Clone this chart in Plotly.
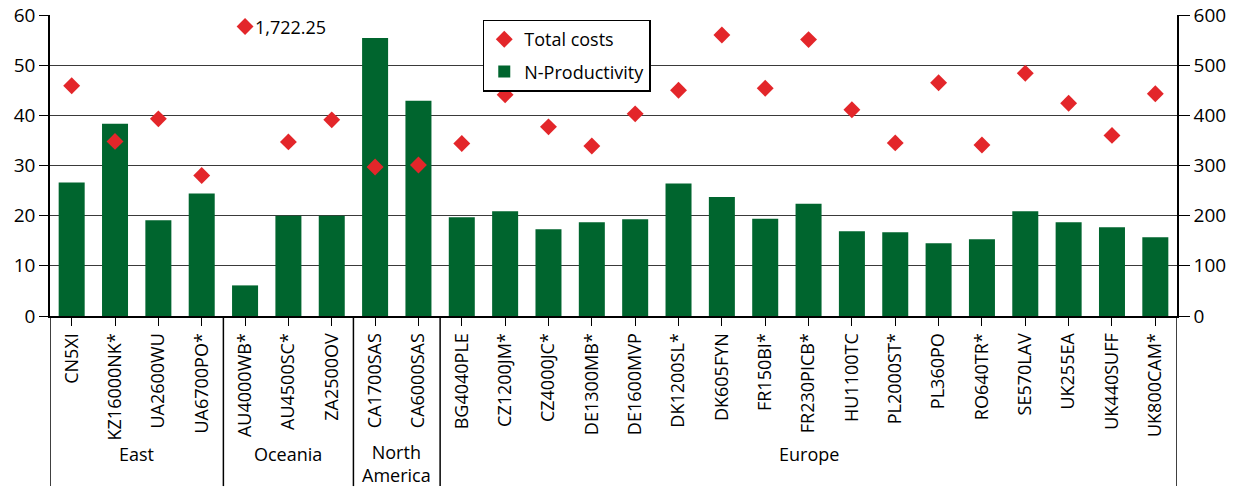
import plotly.graph_objects as go

categories = ["CN5XI", "KZ16000NK*", "UA2600WU", "UA6700PO*",
              "AU4000WB*", "AU4500SC*", "ZA2500OV",
              "CA1700SAS", "CA6000SAS",
              "BG4040PLE", "CZ1200JM*", "CZ4000JC*", "DE1300MB*", "DE1600MVP",
              "DK1200SL*", "DK605FYN", "FR150BI*", "FR230PICB*", "HU1100TC",
              "PL2000ST*", "PL360PO", "RO640TR*", "SE570LAV", "UK255EA",
              "UK440SUFF", "UK800CAM*"]

n_productivity = [26.6, 38.3, 19.1, 24.4,
                  6.1, 20.0, 20.0,
                  55.4, 42.9,
                  19.7, 20.9, 17.3, 18.7, 19.3,
                  26.4, 23.7, 19.4, 22.4, 16.9,
                  16.7, 14.5, 15.3, 20.9, 18.7,
                  17.7, 15.7]

total_costs = [459, 348, 393, 280,
               1722.25, 347, 391,
               297, 301,
               344, 441, 377, 339, 403,
               450, 560, 454, 551, 411,
               345, 465, 341, 484, 424,
               360, 443]

groups = ["East", "Oceania", "North<br>America", "Europe"]
group_sizes = [4, 3, 2, 17]

# off-scale values are drawn at the top of the right axis and labelled
cost_display_cap = 577

FONT = "Open Sans"
GREEN = "#00652E"
RED = "#E3262A"

cost_plot = [min(v, cost_display_cap) for v in total_costs]

fig = go.Figure()
fig.add_trace(go.Bar(x=categories, y=n_productivity, name="N-Productivity",
                     marker=dict(color=GREEN, line=dict(width=0)), yaxis="y",
                     legendgroup="b", legendrank=2))
fig.add_trace(go.Scatter(x=categories, y=cost_plot, name="Total costs", mode="markers",
                         marker=dict(symbol="diamond", size=13, color=RED),
                         yaxis="y2", legendgroup="a", legendrank=1))

# label for off-scale value
for c, v in zip(categories, total_costs):
    if v > cost_display_cap:
        fig.add_annotation(x=c, y=cost_display_cap, yref="y2", text=f"{v:,.2f}",
                           showarrow=False, xanchor="left", xshift=8,
                           font=dict(family=FONT, size=18, color="black"))

# group separators and labels
shapes = []
start = 0
bounds = [-0.5]
for g, s in zip(groups, group_sizes):
    end = start + s
    bounds.append(end - 0.5)
    center = (start + end - 1) / 2
    two_line = "<br>" in g
    fig.add_annotation(x=center, xref="x", y=-0.46 if not two_line else -0.49,
                       yref="paper", text=g, showarrow=False, yanchor="middle",
                       font=dict(family=FONT, size=18, color="black"))
    start = end
for b in bounds:
    shapes.append(dict(type="line", xref="x", yref="paper", x0=b, x1=b,
                       y0=0, y1=-0.565, line=dict(color="black", width=1.5)))

fig.update_layout(
    width=1245, height=487,
    margin=dict(l=50, r=68, t=15, b=171),
    paper_bgcolor="white", plot_bgcolor="white",
    bargap=0.4,
    showlegend=True,
    legend=dict(x=0.384, y=0.985, xanchor="left", yanchor="top",
                bgcolor="white", bordercolor="black", borderwidth=1.5,
                font=dict(family=FONT, size=18, color="black"),
                itemwidth=30, tracegroupgap=6),
    font=dict(family=FONT, size=18, color="black"),
    shapes=shapes,
    xaxis=dict(type="category", tickangle=-90, ticks="outside", ticklen=8,
               tickcolor="black", showline=True, linecolor="black", linewidth=2,
               tickfont=dict(family=FONT, size=18, color="black"),
               range=[-0.5, len(categories) - 0.5], showgrid=False, automargin=False),
    yaxis=dict(range=[0, 60], dtick=10, ticks="outside", ticklen=9,
               tickcolor="black", showline=True, linecolor="black", linewidth=1.5,
               showgrid=True, gridcolor="#3a3a3a", gridwidth=1, zeroline=False,
               tickfont=dict(family=FONT, size=19, color="black"), automargin=False),
    yaxis2=dict(range=[0, 600], dtick=100, overlaying="y", side="right",
                ticks="outside", ticklen=11, tickcolor="black", showline=True,
                linecolor="black", linewidth=1.5, showgrid=False, zeroline=False,
                tickfont=dict(family=FONT, size=19, color="black"), automargin=False),
)

fig.write_html("out.html", config={"displayModeBar": False},
               post_script="document.body.style.margin='0';document.body.style.overflow='hidden';")
